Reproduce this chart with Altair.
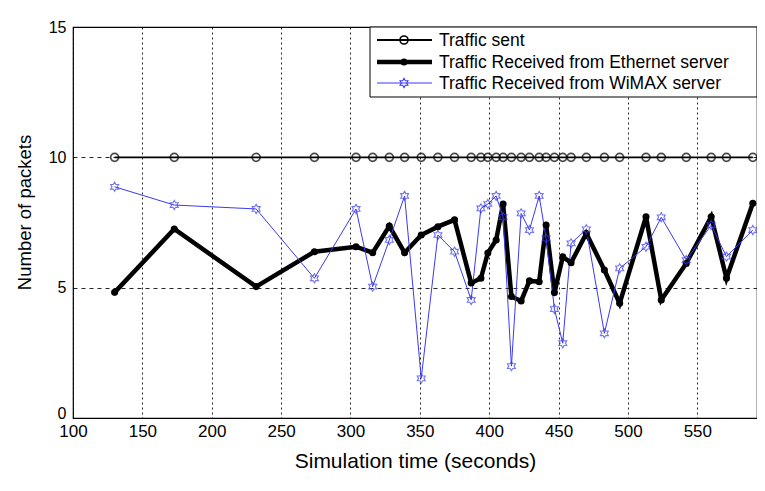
import altair as alt
import pandas as pd

# ---- data ----
time_s = [130, 173, 232, 274, 304, 316, 328, 339, 351, 363, 375, 387, 394, 399, 405,
          410, 416, 423, 429, 436, 441, 447, 453, 459, 470, 483, 494, 513, 524, 542,
          560, 571, 590]
sent = [10, 10, 10, 10, 10, 10, 10, 10, 10, 10, 10, 10, 10, 10, 10, 10, 10, 10, 10,
        10, 10, 10, 10, 10, 10, 10, 10, 10, 10, 10, 10, 10, 10]
ethernet = [4.82, 7.25, 5.04, 6.38, 6.57, 6.34, 7.36, 6.34, 7.02, 7.34, 7.60, 5.18,
            5.36, 6.33, 6.83, 8.21, 4.66, 4.49, 5.26, 5.23, 7.40, 4.81, 6.18, 5.96,
            7.08, 5.68, 4.40, 7.72, 4.53, 5.93, 7.72, 5.36, 8.24]
wimax = [8.87, 8.17, 8.02, 5.36, 8.02, 5.04, 6.83, 8.52, 1.52, 7.02, 6.38, 4.53,
         8.04, 8.21, 8.52, 7.71, 1.99, 7.85, 7.21, 8.52, 6.89, 4.18, 2.87, 6.70,
         7.24, 3.25, 5.74, 6.57, 7.70, 6.06, 7.40, 6.19, 7.21]
series_names = ["Traffic sent",
                "Traffic Received from Ethernet server",
                "Traffic Received from WiMAX server"]
x_ticks = [100, 150, 200, 250, 300, 350, 400, 450, 500, 550]
y_ticks = [0, 5, 10, 15]

FONT = "Liberation Sans"
BLUE = "#3a3af2"
HEX = ("M0,-1L0.289,-0.5L0.866,-0.5L0.577,0L0.866,0.5L0.289,0.5L0,1L-0.289,0.5"
       "L-0.866,0.5L-0.577,0L-0.866,-0.5L-0.289,-0.5Z")

W, H = 684, 391

df = pd.DataFrame({"t": time_s, "sent": sent, "eth": ethernet, "wimax": wimax})

xenc = alt.X("t:Q", scale=alt.Scale(domain=[100, 593], nice=False, zero=False),
             axis=alt.Axis(values=x_ticks, title="Simulation time (seconds)",
                           grid=True, gridDash=[2, 3], gridColor="#000000",
                           gridOpacity=0.85, ticks=False, labelPadding=5,
                           labelFontSize=17, titleFontSize=21,
                           titlePadding=11, domain=False, labelFlush=False))

def yenc(field):
    return alt.Y(f"{field}:Q", scale=alt.Scale(domain=[0, 15], nice=False),
                 axis=alt.Axis(values=y_ticks, title="Number of packets",
                               grid=True, gridDash=[4, 4], gridColor="#000000",
                               gridOpacity=0.85, ticks=False, labelPadding=7,
                               labelFontSize=16, titleFontSize=18.5,
                               labelOffset=alt.ExprRef(expr="datum.value == 0 ? -5 : 0"),
                               titlePadding=14, titleY=185, domain=False))

base = alt.Chart(df)
sent_line = base.mark_line(color="black", strokeWidth=1.8).encode(x=xenc, y=yenc("sent"))
sent_pts = base.mark_point(shape="circle", filled=False, color="black", size=64,
                           strokeWidth=1.7).encode(x=xenc, y=yenc("sent"))
eth_line = base.mark_line(color="black", strokeWidth=4.5).encode(x=xenc, y=yenc("eth"))
eth_pts = base.mark_point(shape="circle", filled=True, color="black", size=50,
                          opacity=1).encode(x=xenc, y=yenc("eth"))
wi_line = base.mark_line(color=BLUE, strokeWidth=1).encode(x=xenc, y=yenc("wimax"))
wi_pts = base.mark_point(shape=HEX, filled=False, color=BLUE, size=85,
                         strokeWidth=1.1).encode(x=xenc, y=yenc("wimax"))

# ---- legend box (top-right, inside the plot) ----
leg_df = pd.DataFrame({"name": series_names})
lx0, lx1, ly0, ly1 = 297, 684, 0, 70
rows = [13, 35, 56]
legend_layers = [
    alt.Chart(leg_df.head(1)).mark_rect(fill="white", stroke="black", strokeWidth=1)
    .encode(x=alt.value(lx0), x2=alt.value(lx1), y=alt.value(ly0), y2=alt.value(ly1))
]
styles = [
    dict(color="black", sw=1.8, shape="circle", filled=False, size=64),
    dict(color="black", sw=4.5, shape="circle", filled=True, size=50),
    dict(color=BLUE, sw=1, shape=HEX, filled=False, size=85),
]
for i, (name, st, ry) in enumerate(zip(series_names, styles, rows)):
    one = alt.Chart(leg_df.iloc[[i]])
    legend_layers.append(one.mark_rule(color=st["color"], strokeWidth=st["sw"]).encode(
        x=alt.value(304), x2=alt.value(359), y=alt.value(ry)))
    legend_layers.append(one.mark_point(shape=st["shape"], filled=st["filled"],
                                        color=st["color"], size=st["size"],
                                        strokeWidth=1.6 if st["shape"] == "circle" else 1.1,
                                        opacity=1)
                         .encode(x=alt.value(331), y=alt.value(ry)))
    legend_layers.append(one.mark_text(align="left", baseline="middle", font=FONT,
                                       fontSize=17.5, color="black")
                         .encode(x=alt.value(366), y=alt.value(ry + 1), text="name:N"))

chart = alt.layer(sent_line, eth_line, wi_line, sent_pts, eth_pts, wi_pts,
                  *legend_layers).properties(
    width=W, height=H,
    autosize=alt.AutoSizeParams(type="none"),
    padding={"left": 65, "top": 19, "right": 0, "bottom": 64},
    background="white",
).configure_view(stroke="black", strokeWidth=1.2).configure_axis(
    labelFont=FONT, labelColor="black",
    titleFont=FONT, titleFontWeight="normal", titleColor="black",
)

chart.save("out.html", embed_options={"renderer": "svg", "actions": False})
